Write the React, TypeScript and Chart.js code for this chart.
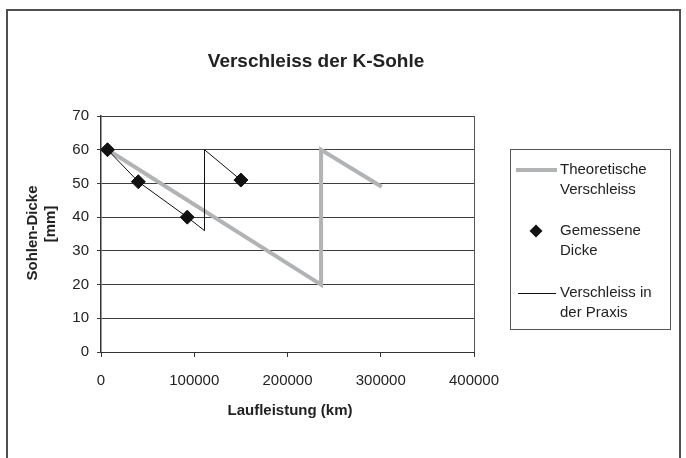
import React, { useEffect, useRef } from "react";
import { Chart, registerables } from "chart.js";

Chart.register(...registerables);

// Theoretical wear: linear from new sole to 20 mm, then a fresh sole
const theoX = [7000, 236000, 236000, 301000];
const theoY = [60, 20, 60, 49];

// Measured sole thickness
const measX = [7000, 40000, 92500, 150000];
const measY = [60, 50.5, 40, 51];

// Wear in practice (re-soled at ~111000 km)
const praxX = [7000, 40000, 92500, 111000, 111000, 150000];
const praxY = [60, 50.5, 40, 36, 60, 51];

const xTicks = [0, 100000, 200000, 300000, 400000];
const yTicks = [0, 10, 20, 30, 40, 50, 60, 70];

const seriesNames = [
  ["Theoretische", "Verschleiss"],
  ["Gemessene", "Dicke"],
  ["Verschleiss in", "der Praxis"],
];

const FONT = "'Liberation Sans', Arial, sans-serif";
const GRAY = "#b1b3b5";
const INK = "#222";

const toPoints = (xs: number[], ys: number[]) => xs.map((x, i) => ({ x, y: ys[i] }));

function diamond(ctx: CanvasRenderingContext2D, x: number, y: number, r: number) {
  ctx.beginPath();
  ctx.moveTo(x, y - r);
  ctx.lineTo(x + r, y);
  ctx.lineTo(x, y + r);
  ctx.lineTo(x - r, y);
  ctx.closePath();
  ctx.fill();
}

const decorations = {
  id: "decorations",
  afterDraw(chart: any) {
    const ctx: CanvasRenderingContext2D = chart.ctx;
    const area = chart.chartArea;
    ctx.save();

    // outer frame
    ctx.strokeStyle = "#505050";
    ctx.lineWidth = 2;
    ctx.strokeRect(7, 10, 673, 480);

    // plot area right edge
    ctx.strokeStyle = "#555";
    ctx.lineWidth = 1;
    ctx.beginPath();
    ctx.moveTo(Math.round(area.right) + 0.5, area.top);
    ctx.lineTo(Math.round(area.right) + 0.5, area.bottom);
    ctx.stroke();

    // title
    ctx.fillStyle = INK;
    ctx.textAlign = "center";
    ctx.textBaseline = "middle";
    ctx.font = `bold 19px ${FONT}`;
    ctx.fillText("Verschleiss der K-Sohle", 316, 62);

    // x axis title
    ctx.font = `bold 15px ${FONT}`;
    ctx.fillText("Laufleistung (km)", 290, 411);

    // y axis title (two rotated lines)
    ctx.save();
    ctx.translate(33, 233);
    ctx.rotate(-Math.PI / 2);
    ctx.fillText("Sohlen-Dicke", 0, 0);
    ctx.restore();
    ctx.save();
    ctx.translate(51, 224);
    ctx.rotate(-Math.PI / 2);
    ctx.fillText("[mm]", 0, 0);
    ctx.restore();

    // legend box
    ctx.strokeStyle = "#555";
    ctx.lineWidth = 1;
    ctx.strokeRect(510.5, 149.5, 160, 180);

    ctx.font = `15px ${FONT}`;
    ctx.textAlign = "left";
    const textX = 560;
    const rows = [170, 231, 293];
    const lineGap = 20;

    // theoretical sample
    ctx.strokeStyle = GRAY;
    ctx.lineWidth = 4;
    ctx.beginPath();
    ctx.moveTo(516, rows[0]);
    ctx.lineTo(557, rows[0]);
    ctx.stroke();

    // measured sample
    ctx.fillStyle = "#111";
    diamond(ctx, 536, rows[1], 6.5);

    // practice sample
    ctx.strokeStyle = "#111";
    ctx.lineWidth = 1;
    ctx.beginPath();
    ctx.moveTo(518, rows[2] + 0.5);
    ctx.lineTo(556, rows[2] + 0.5);
    ctx.stroke();

    ctx.fillStyle = INK;
    seriesNames.forEach((lines, i) => {
      lines.forEach((t, j) => ctx.fillText(t, textX, rows[i] + j * lineGap));
    });

    ctx.restore();
  },
};

export default function App() {
  const ref = useRef<HTMLCanvasElement | null>(null);

  useEffect(() => {
    if (!ref.current) return;
    const chart = new Chart(ref.current, {
      type: "line",
      data: {
        datasets: [
          {
            label: seriesNames[0].join(" "),
            data: toPoints(theoX, theoY),
            borderColor: GRAY,
            borderWidth: 4,
            pointRadius: 0,
            tension: 0,
            order: 3,
          },
          {
            label: seriesNames[1].join(" "),
            data: toPoints(measX, measY),
            showLine: false,
            pointStyle: "rectRot",
            pointRadius: 7,
            pointBackgroundColor: "#111",
            pointBorderColor: "#111",
            pointBorderWidth: 1,
            order: 2,
          },
          {
            label: seriesNames[2].join(" "),
            data: toPoints(praxX, praxY),
            borderColor: "#111",
            borderWidth: 1,
            pointRadius: 0,
            tension: 0,
            order: 1,
          },
        ],
      },
      options: {
        responsive: false,
        animation: false,
        events: [],
        layout: { padding: { left: 0, top: 116, right: 212, bottom: 66 } },
        plugins: {
          legend: { display: false },
          title: { display: false },
          tooltip: { enabled: false },
        },
        scales: {
          x: {
            type: "linear",
            min: xTicks[0],
            max: xTicks[xTicks.length - 1],
            afterFit: (s: any) => {
              s.height = 40;
            },
            afterBuildTicks: (s: any) => {
              s.ticks = xTicks.map((v) => ({ value: v }));
            },
            ticks: {
              color: INK,
              font: { family: FONT, size: 15 },
              padding: 15,
              maxRotation: 0,
              callback: (v: any) => String(v),
            },
            grid: {
              drawOnChartArea: false,
              drawTicks: true,
              tickLength: 5,
              color: "#333",
            },
            border: { color: "#333", width: 1 },
          },
          y: {
            type: "linear",
            min: yTicks[0],
            max: yTicks[yTicks.length - 1],
            afterFit: (s: any) => {
              s.width = 101;
            },
            afterBuildTicks: (s: any) => {
              s.ticks = yTicks.map((v) => ({ value: v }));
            },
            ticks: {
              color: INK,
              font: { family: FONT, size: 15 },
              padding: 8,
            },
            grid: {
              color: "#3c3c3c",
              lineWidth: 1,
              drawTicks: true,
              tickLength: 4,
            },
            border: { color: "#333", width: 1.5 },
          },
        },
      },
      plugins: [decorations],
    });
    return () => chart.destroy();
  }, []);

  return (
    <div style={{ position: "fixed", left: 0, top: 0, width: 686, height: 458, background: "#fff" }}>
      <canvas ref={ref} width={686} height={458} />
    </div>
  );
}
